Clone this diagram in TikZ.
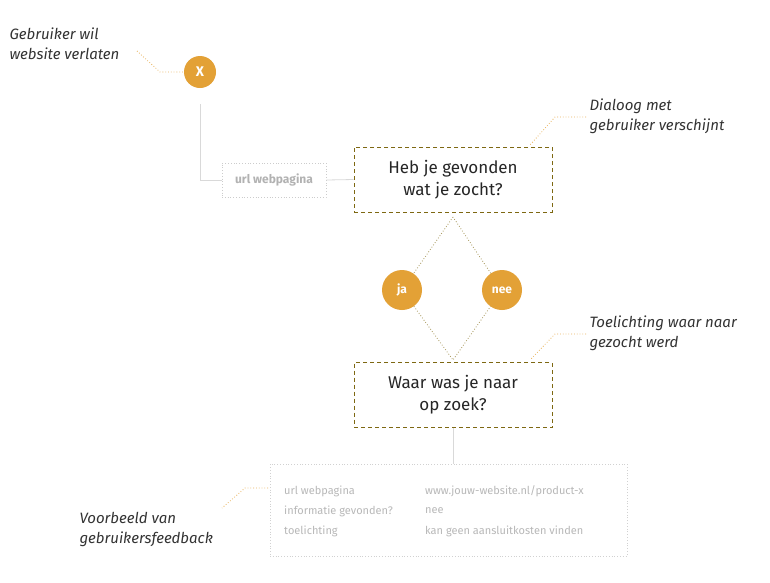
\documentclass[tikz,border=0pt]{standalone}
\usepackage{fontspec}
\setmainfont{Fira Sans}
\begin{document}
\begin{tikzpicture}[x=1pt,y=-1pt,
  orangec/.style={circle,fill=orng,text=white,inner sep=0pt,minimum size=#1,font=\fontsize{14}{16}\selectfont\bfseries},
  qbox/.style={draw=olive,dash pattern=on 4pt off 3pt,line width=0.8pt,minimum width=198pt,minimum height=65pt,align=center,font=\fontsize{17}{22}\selectfont\mdseries,text=black!85},
  callout/.style={align=left,anchor=north west,font=\fontsize{15}{20}\selectfont\itshape,text=black!80},
  leader/.style={draw=orng!80,dotted,line width=0.8pt},
  greyline/.style={draw=black!15,line width=0.8pt},
  small/.style={anchor=west,text=black!28,font=\fontsize{11}{13}\selectfont,inner sep=0pt}]
\definecolor{orng}{HTML}{E3A136}
\colorlet{olive}{orng!55!black!60!olive}
\useasboundingbox (0,0) rectangle (770,582);
\fill[white] (0,0) rectangle (770,582);
% top
\node[orangec=32pt] (x) at (200,72) {X};
\node[callout] (t1) at (6,24) {Gebruiker wil\\website verlaten};
\coordinate (l1a) at (137,51); \coordinate (l1b) at (160,72);
\draw[leader] (l1a) -- (l1b) -- (x.west);
\node[draw=black!20,dotted,line width=0.8pt,minimum width=104pt,minimum height=34pt,text=black!30,font=\fontsize{12}{14}\selectfont\bfseries] (url) at (274,180) {url webpagina};
\node[qbox] (q1) at (453,179.5) {Heb je gevonden\\wat je zocht?};
\coordinate (c1) at (200,180);
\draw[greyline] (200,104) -- (c1) -- (url.west);
\draw[greyline] (url.east) -- (q1.west);
\node[callout] (t2) at (586,95) {Dialoog met\\gebruiker verschijnt};
\coordinate (l2a) at (586,117); \coordinate (l2b) at (555,117); \coordinate (l2c) at (530,145);
\draw[leader] (l2a) -- (l2b) -- (l2c);
% diamond
\node[orangec=40pt] (ja) at (402,290) {\fontsize{12}{14}\selectfont ja};
\node[orangec=40pt] (nee) at (502,290) {\fontsize{12}{14}\selectfont nee};
\coordinate (top) at (453,217); \coordinate (bot) at (453,360);
\draw[draw=olive!70,dotted,line width=0.8pt] (top) -- (ja) -- (bot) -- (nee) -- (top);
\node[qbox] (q2) at (453,395) {Waar was je naar\\op zoek?};
\node[callout] (t3) at (586,312) {Toelichting waar naar\\gezocht werd};
\coordinate (l3a) at (586,334); \coordinate (l3b) at (555,334); \coordinate (l3c) at (530,360);
\draw[leader] (l3a) -- (l3b) -- (l3c);
% feedback
\node[draw=black!18,dotted,line width=0.8pt,minimum width=357pt,minimum height=92pt] (fb) at (448.5,510) {};
\draw[greyline] (q2.south) -- (fb.north -| q2.south);
\node[small] (a1) at (284,491) {url webpagina};
\node[small] (a2) at (284,511) {informatie gevonden?};
\node[small] (a3) at (284,531) {toelichting};
\node[small] (b1) at (425,491) {www.jouw-website.nl/product-x};
\node[small] (b2) at (425,511) {nee};
\node[small] (b3) at (425,531) {kan geen aansluitkosten vinden};
\node[callout] (t4) at (76,509) {Voorbeeld van\\gebruikersfeedback};
\coordinate (l4a) at (268,488); \coordinate (l4b) at (245,488); \coordinate (l4c) at (222,508);
\draw[leader] (l4a) -- (l4b) -- (l4c);
\end{tikzpicture}
\end{document}
